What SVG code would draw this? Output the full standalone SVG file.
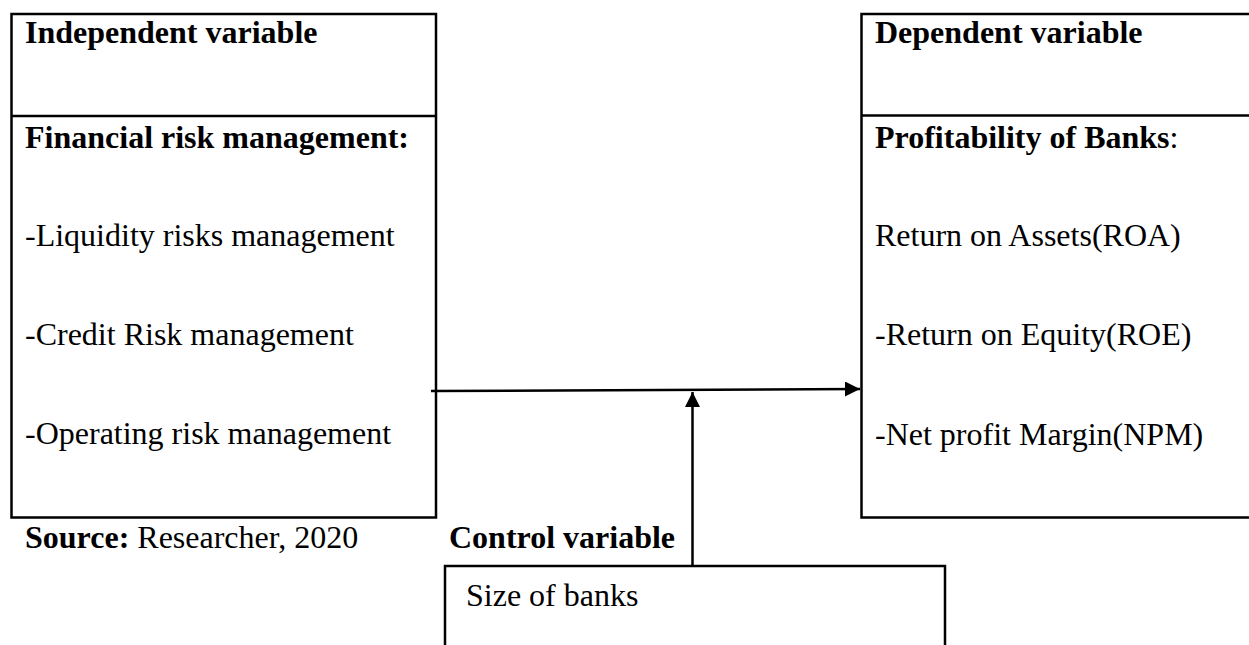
<svg xmlns="http://www.w3.org/2000/svg" width="1249" height="645" viewBox="0 0 1249 645">
<style>
.box{fill:#fff;stroke:#000;stroke-width:2.5}
.t{font-family:"Liberation Serif","Times New Roman",serif;font-size:32px;fill:#000}
.b{font-weight:bold}
.c{stroke:#000;stroke-width:2.5;fill:none}
</style>
<defs>
<marker id="ah" markerUnits="userSpaceOnUse" markerWidth="16" markerHeight="16" refX="15" refY="7.5" orient="auto">
<path d="M0,0 L15,7.5 L0,15 Z" fill="#000"/>
</marker>
</defs>
<rect width="1249" height="645" fill="#fff"/>
<g id="independent">
<rect class="box" x="11.5" y="14" width="424.5" height="503.5"/>
<line class="c" x1="11.5" y1="116" x2="436" y2="116"/>
<text class="t b" x="25" y="43">Independent variable</text>
<text class="t b" x="25" y="148">Financial risk management:</text>
<text class="t" x="25" y="246">-Liquidity risks management</text>
<text class="t" x="25" y="345">-Credit Risk management</text>
<text class="t" x="25" y="444">-Operating risk management</text>
</g>
<g id="dependent">
<rect class="box" x="861.5" y="14" width="400" height="503.5"/>
<line class="c" x1="861.5" y1="115.5" x2="1261" y2="115.5"/>
<text class="t b" x="875" y="43">Dependent variable</text>
<text class="t" x="875" y="148"><tspan class="b">Profitability of Banks</tspan>:</text>
<text class="t" x="875" y="246">Return on Assets(ROA)</text>
<text class="t" x="875" y="345">-Return on Equity(ROE)</text>
<text class="t" x="875" y="445">-Net profit Margin(NPM)</text>
</g>
<g id="source">
<text class="t" x="25" y="548"><tspan class="b">Source:</tspan> Researcher, 2020</text>
</g>
<g id="control-label">
<text class="t b" x="449" y="548">Control variable</text>
</g>
<g id="control">
<rect class="box" x="445" y="566" width="500" height="100"/>
<text class="t" x="466" y="606">Size of banks</text>
</g>
<g id="connectors">
<line class="c" x1="431" y1="391" x2="860" y2="389" marker-end="url(#ah)"/>
<line class="c" x1="692.5" y1="566" x2="692.5" y2="392" marker-end="url(#ah)"/>
</g>
</svg>
